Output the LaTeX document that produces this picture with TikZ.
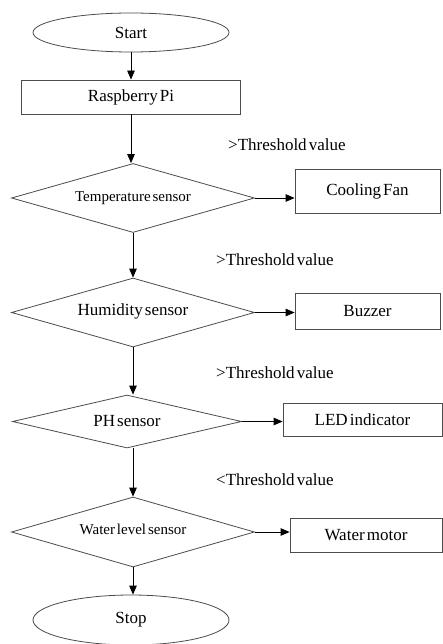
\documentclass[tikz,border=0pt]{standalone}
\usepackage{fontspec}
\setmainfont{Liberation Serif}[WordSpace=0.5]
\usetikzlibrary{shapes.geometric,arrows.meta}
\begin{document}
\begin{tikzpicture}[x=1pt,y=-1pt,
  shp/.style={draw=black!70, line width=0.8pt, inner sep=0pt, font=\fontsize{17}{20}\selectfont},
  oval/.style={shp, ellipse, minimum width=196pt},
  box/.style={shp, rectangle},
  dec/.style={shp, diamond, aspect=3.5},
  arr/.style={draw=black, line width=0.8pt, -{Triangle[length=9pt,width=7.5pt]}},
  lbl/.style={anchor=west, inner sep=0pt, font=\fontsize{17}{20}\selectfont}]
\useasboundingbox (0,0) rectangle (443,644);
\fill[white] (0,0) rectangle (443,644);
\node[oval, minimum height=39pt] (start) at (131,32.5) {Start};
\node[box, minimum width=219pt, minimum height=34pt] (rpi) at (131,97) {Raspberry Pi};
\node[dec, minimum width=243pt, minimum height=69pt, font=\fontsize{15}{18}\selectfont] (temp) at (133,198) {Temperature sensor};
\node[box, minimum width=145pt, minimum height=44pt] (cool) at (367.5,191) {Cooling Fan};
\node[lbl] (l1) at (228,145) {>Threshold value};
\node[dec, minimum width=243pt, minimum height=69pt] (hum) at (133,312.5) {\raisebox{5pt}{Humidity sensor}};
\node[box, minimum width=145pt, minimum height=36pt] (buzz) at (367.5,311) {Buzzer};
\node[lbl] (l2) at (216,260) {>Threshold value};
\node[lbl] (l3) at (216,373) {>Threshold value};
\node[dec, minimum width=229pt, minimum height=53pt] (ph) at (127,421.5) {\raisebox{2pt}{PH sensor}};
\node[box, minimum width=159pt, minimum height=33pt] (led) at (362.5,419.5) {LED indicator};
\node[lbl] (l4) at (216,480) {<Threshold value};
\node[dec, minimum width=243pt, minimum height=70pt, font=\fontsize{15}{18}\selectfont] (water) at (133,532) {\raisebox{6pt}{Water level sensor}};
\node[box, minimum width=152pt, minimum height=34pt] (motor) at (366,535) {Water motor};
\node[oval, minimum height=50pt] (stop) at (131,620) {Stop};
\draw[arr] (start.south) -- (start.south |- rpi.north);
\draw[arr] (rpi.south) -- (rpi.south |- temp.north);
\draw[arr] (temp.south) -- (temp.south |- hum.north);
\draw[arr] (hum.south) -- (hum.south |- ph.north);
\draw[arr] (hum.south |- ph.south) -- (hum.south |- water.north);
\draw[arr] (water.south) -- (water.south |- stop.north);
\draw[arr] (temp.east) -- (temp.east -| cool.west);
\draw[arr] (hum.east) -- (hum.east -| buzz.west);
\draw[arr] (ph.east) -- (ph.east -| led.west);
\draw[arr] (water.east) -- (water.east -| motor.west);
\end{tikzpicture}
\end{document}
